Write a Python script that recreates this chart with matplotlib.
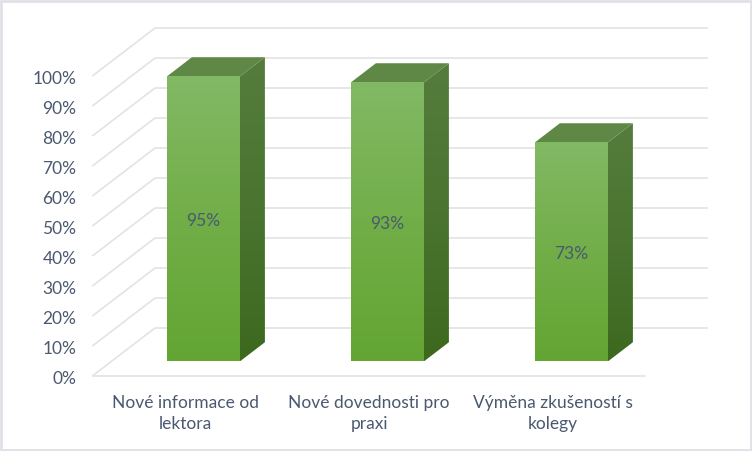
import numpy as np
import matplotlib
matplotlib.use("Agg")
import matplotlib.pyplot as plt
from matplotlib.colors import LinearSegmentedColormap
from matplotlib.patches import Polygon, Rectangle
from matplotlib.transforms import ScaledTranslation

categories = ["Nové informace od\nlektora", "Nové dovednosti pro\npraxi", "Výměna zkušeností s\nkolegy"]
values = [95, 93, 73]
y_ticks = list(range(0, 101, 10))

TEXT = "#4A5970"
GRID = "#E3E3E3"

plt.rcParams['font.family'] = ['Lato', 'DejaVu Sans']

W, H = 752, 452
fig = plt.figure(figsize=(W / 100, H / 100), dpi=100, facecolor="white")
ax = fig.add_axes([93 / W, (H - 376.5) / H, 552 / W, 300 / H])
ax.set_xlim(-0.5, 2.5)
ax.set_ylim(0, 100)
ax.patch.set_alpha(0)
for s in ax.spines.values():
    s.set_visible(False)

# depth of the 3d box, in data units of the axes
px_x = 3 / 552
px_y = 100 / 300
depth_x = 62 * px_x
depth_y = 47.5 * px_y


def project(x, y, d):
    # d = 0 front of the floor, d = 1 back wall
    return x + d * depth_x, y + d * depth_y


# gridlines on side wall and back wall
for t in y_ticks:
    x0, y0 = project(-0.5, t, 0)
    x1, y1 = project(-0.5, t, 1)
    x2, y2 = project(2.5, t, 1)
    ax.plot([x0, x1, x2], [y0, y1, y2], color=GRID, lw=1.2, clip_on=False, zorder=1)
ax.plot([-0.5, 2.5], [0, 0], color=GRID, lw=1.2, clip_on=False, zorder=1)

front_cm = LinearSegmentedColormap.from_list("front", ["#63A533", "#72AE48", "#82B965"])
side_cm = LinearSegmentedColormap.from_list("side", ["#3C691E", "#4A7430", "#557C3C"])
grad = np.linspace(1, 0, 256).reshape(-1, 1)

bar_w = 73 * px_x
d_front = 0.30
d_back = 0.70


def face(pts, cmap, z):
    xs = [p[0] for p in pts]
    ys = [p[1] for p in pts]
    im = ax.imshow(grad, cmap=cmap, aspect="auto", zorder=z,
                   extent=[min(xs), max(xs), min(ys), max(ys)])
    poly = Polygon(pts, closed=True, transform=ax.transData, fc="none", ec="none")
    ax.add_patch(poly)
    im.set_clip_path(poly)
    im.set_clip_box(fig.bbox)


for i, v in enumerate(values):
    l = i - bar_w / 2
    r = i + bar_w / 2
    # side face starts a pixel inside the front face so no seam shows
    fl = project(l, 0, d_front)
    fr = project(r, 0, d_front)
    tl = project(l, v, d_front)
    tr = project(r, v, d_front)
    br = project(r, 0, d_back)
    tbr = project(r, v, d_back)
    tbl = project(l, v, d_back)
    inner = r - px_x
    face([(inner, fr[1]), fr, br, tbr, tr, (inner, tr[1])], side_cm, 3)
    ax.add_patch(Polygon([(tl[0], tl[1] - px_y), (tr[0], tr[1] - px_y), tr, tbr, tbl, tl], closed=True,
                         fc="#5F8746", ec="none", zorder=3.5, clip_on=False))
    face([fl, fr, tr, tl], front_cm, 4)
    lx, ly = project(i, v / 2, d_front)
    ax.annotate("%d%%" % v, (lx, ly), xytext=(0, -1), textcoords="offset points",
                ha="center", va="center", color=TEXT, fontsize=12.5, zorder=5)

ax.set_xlim(-0.5, 2.5)
ax.set_ylim(0, 100)

ax.set_yticks(y_ticks)
ax.set_yticklabels(["%d%%" % t for t in y_ticks], color=TEXT, fontsize=12.5)
ax.set_xticks(range(len(categories)))
ax.set_xticklabels(categories, color=TEXT, fontsize=12.5, linespacing=1.42)
ax.tick_params(axis="y", length=0, pad=12)
ax.tick_params(axis="x", length=0, pad=13)
# nudge the percent labels down a pixel
nudge = ScaledTranslation(0, -1 / 100, fig.dpi_scale_trans)
for lab in ax.get_yticklabels():
    lab.set_transform(lab.get_transform() + nudge)

# frame round the picture
fig.add_artist(Rectangle((1 / W, 1.5 / H), (W - 2) / W, (H - 3) / H, transform=fig.transFigure,
                         fc="none", ec="#DFE1E7", lw=2))

fig.savefig("out.png", dpi=100)
